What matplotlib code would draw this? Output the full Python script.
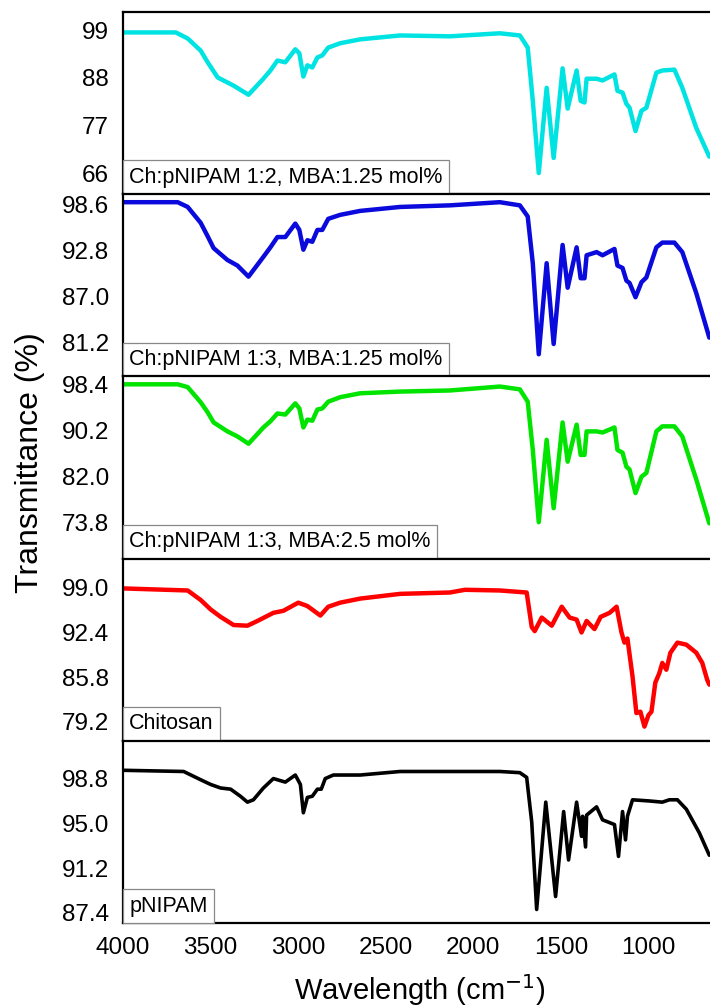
import matplotlib
matplotlib.use("Agg")
import matplotlib.pyplot as plt

plt.rcParams['font.family'] = ['Liberation Sans', 'DejaVu Sans']

# wavenumbers (cm-1) and transmittance (%)
wn_12 = [3994, 3698, 3630, 3556, 3516, 3459, 3368, 3283, 3198, 3158, 3118, 3073, 3016, 2993,
         2970, 2947, 2919, 2890, 2862, 2828, 2760, 2646, 2418, 2134, 1849, 1735, 1690, 1661,
         1627, 1582, 1542, 1491, 1462, 1411, 1388, 1366, 1354, 1297, 1263, 1195, 1178, 1149,
         1127, 1109, 1075, 1041, 1013, 956, 922, 853, 808, 728, 654]
t_12 = [98.5, 98.5, 97.1, 94.3, 91.6, 88.1, 86.2, 84.1, 87.8, 89.7, 92.0, 91.6, 94.6, 93.7,
        88.3, 90.9, 90.4, 92.7, 93.2, 95.0, 96.0, 96.9, 97.8, 97.6, 98.3, 97.8, 95.0, 82.7,
        66.0, 85.7, 69.5, 90.2, 80.9, 89.7, 82.7, 82.3, 87.8, 87.8, 87.4, 88.8, 85.0, 84.6,
        82.0, 81.1, 75.7, 80.4, 81.1, 89.2, 89.7, 89.9, 85.7, 76.4, 69.8]

wn_13 = [3994, 3687, 3630, 3556, 3516, 3482, 3403, 3346, 3283, 3198, 3158, 3118, 3073, 3016,
         2993, 2970, 2947, 2919, 2890, 2862, 2828, 2760, 2646, 2418, 2134, 1849, 1735, 1690,
         1661, 1627, 1582, 1542, 1491, 1462, 1411, 1388, 1366, 1354, 1297, 1263, 1195, 1178,
         1149, 1127, 1109, 1075, 1041, 1013, 956, 922, 853, 808, 728, 654]
t_13 = [98.9, 98.9, 98.3, 96.3, 94.6, 93.1, 91.6, 90.9, 89.5, 92.0, 93.2, 94.5, 94.5, 96.2,
        95.4, 92.9, 94.1, 93.9, 95.4, 95.4, 96.8, 97.3, 97.8, 98.3, 98.5, 98.9, 98.5, 97.1,
        91.2, 79.7, 91.2, 81.0, 93.5, 88.1, 93.2, 89.3, 89.3, 92.2, 92.6, 92.2, 93.0, 90.9,
        90.6, 89.0, 88.7, 86.9, 88.8, 89.4, 93.2, 93.8, 93.8, 92.6, 87.4, 81.8]
t_13b = [98.4, 98.4, 97.9, 95.2, 93.4, 91.6, 90.0, 89.1, 87.8, 90.7, 91.8, 93.2, 93.0, 95.0,
         94.1, 90.7, 92.1, 91.9, 93.9, 94.1, 95.3, 96.1, 96.8, 97.1, 97.3, 98.0, 97.5, 95.3,
         86.7, 73.8, 88.5, 76.3, 91.6, 84.6, 91.2, 85.8, 85.8, 90.0, 90.0, 89.8, 90.7, 86.7,
         86.2, 83.7, 83.2, 79.0, 81.9, 82.6, 90.0, 90.9, 90.9, 89.1, 81.4, 73.6]

wn_ch = [3994, 3630, 3556, 3499, 3442, 3368, 3289, 3232, 3141, 3084, 2999, 2947, 2873, 2828,
         2760, 2646, 2418, 2134, 2048, 1849, 1696, 1667, 1650, 1610, 1553, 1496, 1451, 1411,
         1383, 1354, 1309, 1274, 1223, 1183, 1155, 1138, 1121, 1092, 1070, 1047, 1024, 1001,
         984, 962, 939, 922, 899, 876, 836, 785, 728, 694, 666, 654]
t_ch = [98.9, 98.6, 97.2, 95.8, 94.7, 93.5, 93.4, 94.1, 95.3, 95.6, 96.8, 96.3, 94.9, 96.2,
        96.8, 97.4, 98.1, 98.3, 98.7, 98.6, 98.3, 93.2, 92.6, 94.6, 93.4, 96.2, 94.6, 94.3,
        92.4, 94.1, 92.9, 94.7, 95.3, 96.2, 92.4, 90.9, 91.5, 85.9, 80.5, 80.7, 78.5, 80.2,
        80.7, 85.0, 86.4, 87.9, 86.9, 89.4, 90.9, 90.6, 89.4, 87.9, 85.4, 84.7]

wn_pn = [3994, 3653, 3556, 3499, 3442, 3385, 3329, 3289, 3255, 3198, 3141, 3073, 3016, 2987,
         2970, 2947, 2919, 2890, 2868, 2845, 2799, 2646, 2418, 2134, 1849, 1735, 1696, 1667,
         1639, 1587, 1531, 1485, 1457, 1411, 1383, 1377, 1360, 1354, 1297, 1263, 1195, 1172,
         1149, 1132, 1121, 1092, 996, 922, 882, 836, 785, 711, 654]
t_pn = [99.5, 99.4, 98.7, 98.3, 98.0, 97.9, 97.3, 96.8, 97.0, 98.0, 98.8, 98.5, 99.1, 98.3,
        95.9, 97.2, 97.3, 97.9, 97.9, 98.8, 99.1, 99.1, 99.4, 99.4, 99.4, 99.3, 98.9, 95.1,
        87.7, 96.8, 88.8, 96.0, 91.9, 96.8, 93.9, 95.6, 93.0, 95.7, 96.4, 95.3, 94.9, 92.2,
        96.0, 93.6, 95.6, 97.0, 96.9, 96.8, 97.0, 97.0, 96.2, 94.2, 92.3]

labels = ["Ch:pNIPAM 1:2, MBA:1.25 mol%", "Ch:pNIPAM 1:3, MBA:1.25 mol%",
          "Ch:pNIPAM 1:3, MBA:2.5 mol%", "Chitosan", "pNIPAM"]
colors = ["#00E3E3", "#0A0ADC", "#00E400", "#FF0000", "#000000"]
yticks = [[66, 77, 88, 99], [81.2, 87.0, 92.8, 98.6], [73.8, 82.0, 90.2, 98.4],
          [79.2, 85.8, 92.4, 99.0], [87.4, 91.2, 95.0, 98.8]]
ytick_labels = [["66", "77", "88", "99"], ["81.2", "87.0", "92.8", "98.6"],
                ["73.8", "82.0", "90.2", "98.4"], ["79.2", "85.8", "92.4", "99.0"],
                ["87.4", "91.2", "95.0", "98.8"]]
ylims = [(61.1, 103.2), (76.9, 99.9), (67.3, 99.8), (76.4, 103.3), (86.55, 102.0)]
xticks = [4000, 3500, 3000, 2500, 2000, 1500, 1000]

series = [(wn_12, t_12), (wn_13, t_13), (wn_13, t_13b), (wn_ch, t_ch), (wn_pn, t_pn)]

fig, axes = plt.subplots(5, 1, figsize=(7.1, 10.07), dpi=100, sharex=True,
                         gridspec_kw=dict(hspace=0))
fig.subplots_adjust(left=0.173, right=1.0, top=0.988, bottom=0.0834)

for i, ax in enumerate(axes):
    x, y = series[i]
    ax.plot(x, y, color=colors[i], lw=3.2 if i < 4 else 2.6,
            solid_joinstyle='round', solid_capstyle='round')
    ax.set_ylim(*ylims[i])
    ax.set_yticks(yticks[i])
    ax.set_yticklabels(ytick_labels[i])
    ax.tick_params(axis='both', length=0, labelsize=17.5, pad=10)
    for side in ['top', 'bottom', 'left']:
        ax.spines[side].set_linewidth(1.6)
    ax.spines['right'].set_visible(False)
    ax.annotate(labels[i], xy=(0, 0), xycoords='axes fraction',
                xytext=(4.6, 4.6), textcoords='offset points',
                ha='left', va='bottom', fontsize=15.5,
                bbox=dict(boxstyle='square,pad=0.3', fc='white', ec='#888888', lw=0.9))

axes[-1].set_xlim(4000, 650)
axes[-1].set_xticks(xticks)
axes[-1].set_xticklabels([str(v) for v in xticks])

fig.text(420 / 710, 1 - 990 / 1007, "Wavelength (cm$^{-1}$)", ha='center', va='center',
         fontsize=21)
fig.text(30 / 710, 1 - 463 / 1007, "Transmittance (%)", ha='center', va='center',
         rotation=90, fontsize=23)

fig.savefig("out.png", dpi=100)
